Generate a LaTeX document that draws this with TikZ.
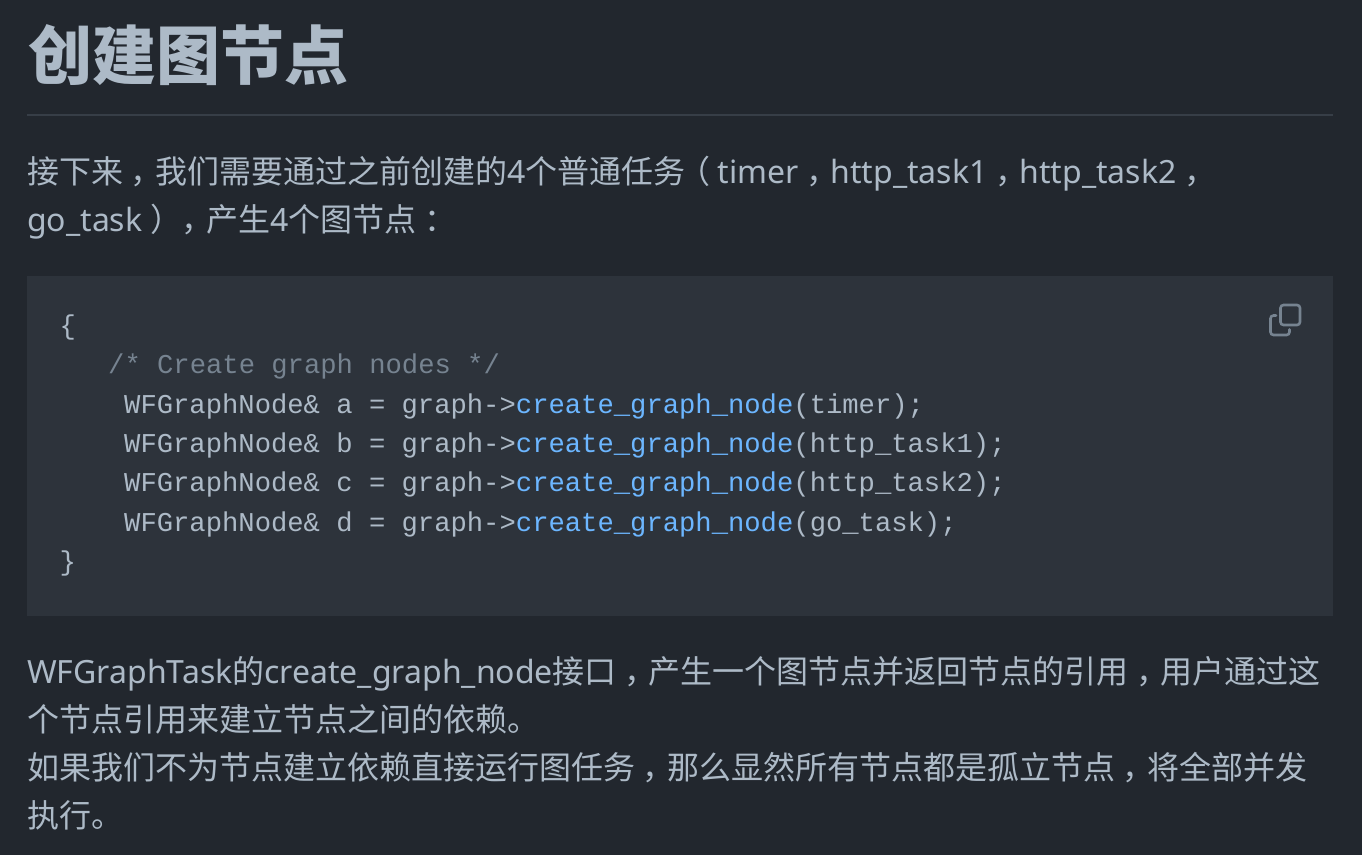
\documentclass[tikz,border=0pt]{standalone}
\usepackage{fontspec}
\setmainfont{Noto Sans}
\setmonofont{Liberation Mono}
\newfontfamily\cjk{Noto Sans CJK SC}
\newfontfamily\cjkpunct[RawFeature=+palt]{Noto Sans CJK SC}
\newcommand{\zh}[1]{{\cjk #1}}
% full-width marks, centred in their box
\newcommand{\pu}[1]{\makebox[1em][c]{\kern.1em\cjkpunct #1}}
\newcommand{\puc}[1]{\makebox[1em][c]{\cjkpunct #1}}
\definecolor{pagebg}{HTML}{22272E}
\definecolor{codebg}{HTML}{2D333B}
\definecolor{bodytxt}{HTML}{ADBAC7}
\definecolor{ruleline}{HTML}{373E47}
\definecolor{commenttxt}{HTML}{768390}
\definecolor{functxt}{HTML}{6CB6FF}
\newcommand{\fn}[1]{\textcolor{functxt}{#1}}
\tikzset{
  bodyline/.style={anchor=base west, inner sep=0pt, text=bodytxt, font=\fontsize{32}{48}\selectfont},
  codeline/.style={anchor=base west, inner sep=0pt, text=bodytxt, font=\fontsize{27.2}{39}\ttfamily},
}
\begin{document}
\begin{tikzpicture}[x=1pt, y=-1pt]
    \useasboundingbox (0,0) rectangle (1362,855);
    \fill[pagebg] (0,0) rectangle (1362,855);
    \node[anchor=base west, inner sep=0pt, text=bodytxt, font=\fontsize{64}{76}\selectfont\cjk\bfseries] (title) at (28,79) {创建图节点};
    \draw[ruleline, line width=2pt] (27,115) -- (1333,115);
    \node[bodyline] (introa) at (27,183) {\zh{接下来}\pu{，}\zh{我们需要通过之前创建的}4\zh{个普通任务}\puc{（}timer\pu{，}http\_task1\pu{，}http\_task2\pu{，}};
    \node[bodyline] (introb) at (27,231) {go\_task\pu{）}\pu{，}\zh{产生}4\zh{个图节点}\puc{：}};
    % code block
    \fill[codebg] (27,276) rectangle (1333,616);
    \node[codeline] (open) at (59.5,334) {\{};
    \node[codeline, text=commenttxt] (comment) at (108,373.5) {/* Create graph nodes */};
    \node[codeline] (nodea) at (124,413) {WFGraphNode\& a = graph->\fn{create\_graph\_node}(timer);};
    \node[codeline] (nodeb) at (124,452.5) {WFGraphNode\& b = graph->\fn{create\_graph\_node}(http\_task1);};
    \node[codeline] (nodec) at (124,491.5) {WFGraphNode\& c = graph->\fn{create\_graph\_node}(http\_task2);};
    \node[codeline] (noded) at (124,531) {WFGraphNode\& d = graph->\fn{create\_graph\_node}(go\_task);};
    \node[codeline] (close) at (59.5,570) {\}};
    % copy icon
    \draw[commenttxt, line width=2.6pt, rounded corners=3pt] (1280.5,305) rectangle (1300,325);
    \draw[commenttxt, line width=2.6pt, rounded corners=3pt, line cap=round] (1276,315.5) -- (1270.5,315.5) -- (1270.5,335) -- (1289.5,335) -- (1289.5,329.5);
    \node[bodyline] (parta) at (27,683) {WFGraphTask\zh{的}create\_graph\_node\zh{接口}\pu{，}\zh{产生一个图节点并返回节点的引用}\pu{，}\zh{用户通过这}};
    \node[bodyline] (partb) at (27,731) {\zh{个节点引用来建立节点之间的依赖。}};
    \node[bodyline] (partc) at (27,779) {\zh{如果我们不为节点建立依赖直接运行图任务}\pu{，}\zh{那么显然所有节点都是孤立节点}\pu{，}\zh{将全部并发}};
    \node[bodyline] (partd) at (27,827) {\zh{执行。}};
\end{tikzpicture}
\end{document}
